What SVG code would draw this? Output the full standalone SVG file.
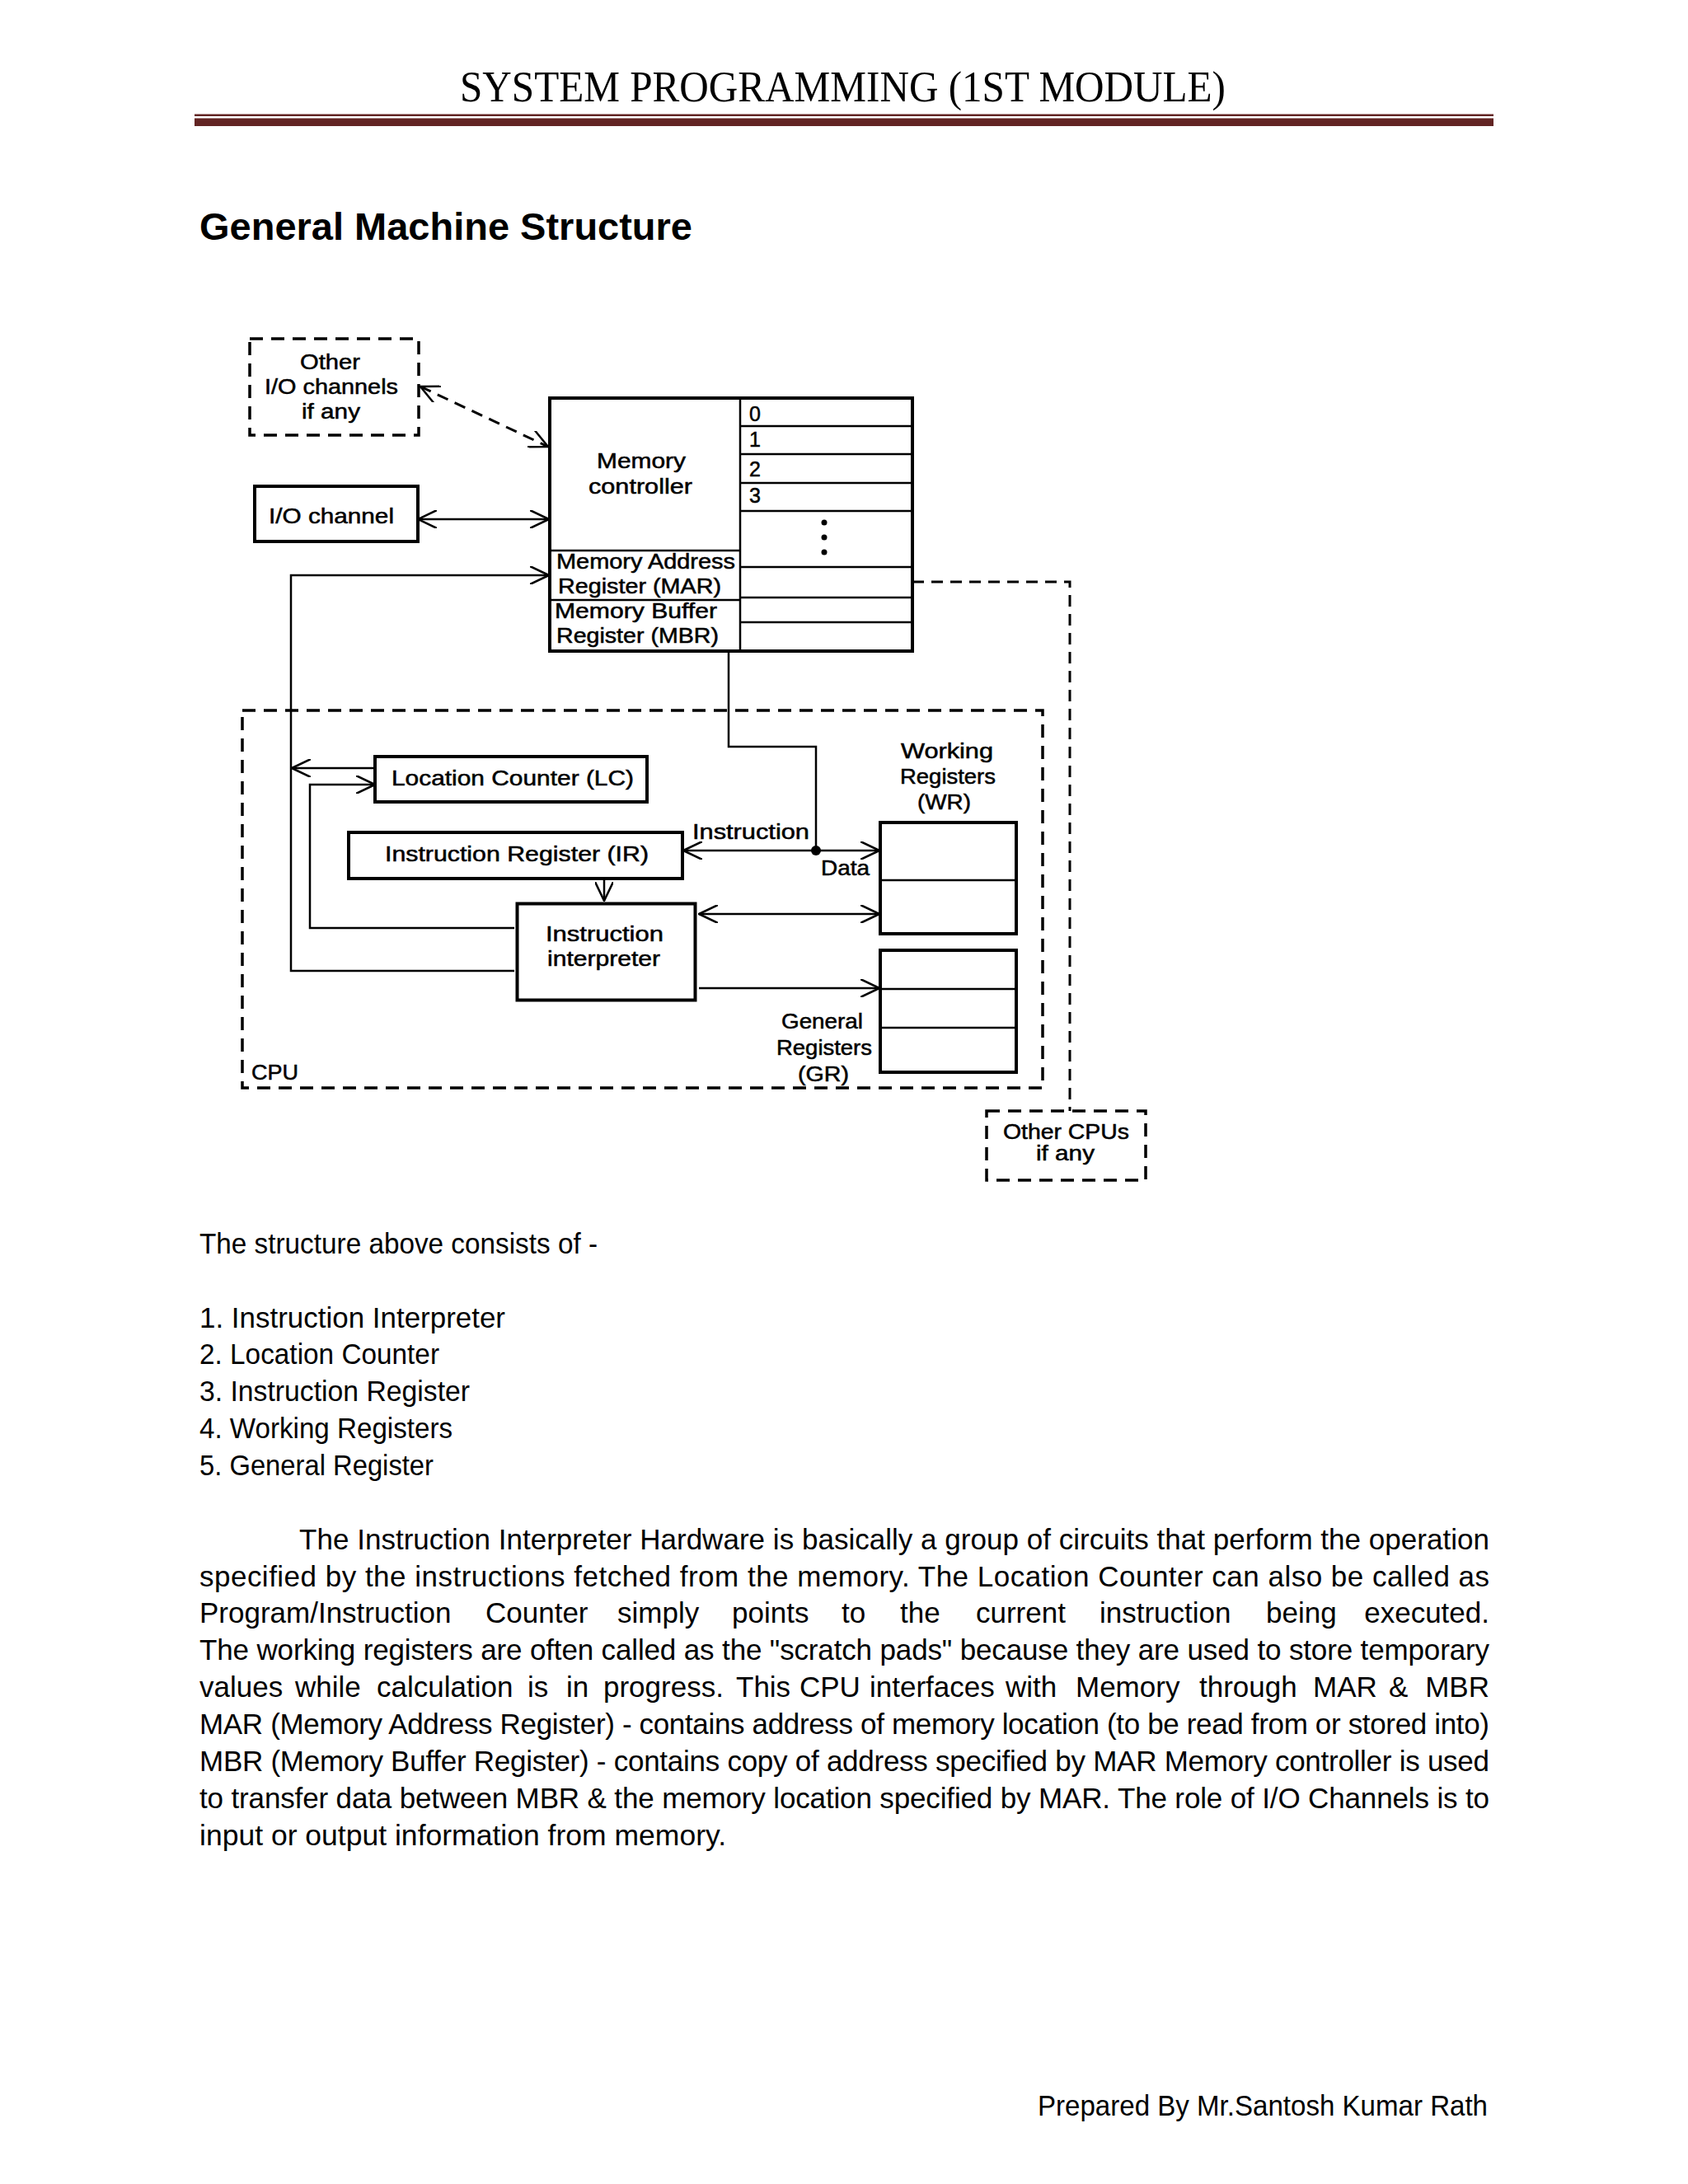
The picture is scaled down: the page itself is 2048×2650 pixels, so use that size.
<svg xmlns="http://www.w3.org/2000/svg" width="2048" height="2650" viewBox="0 0 2048 2650">
<style>
.hdr{font-family:"Liberation Serif","DejaVu Serif",serif;font-size:53px;fill:#000}
.ttl{font-family:"Liberation Sans",Arial,sans-serif;font-size:47px;font-weight:bold;fill:#000}
.body{font-family:"Liberation Sans",Arial,sans-serif;font-size:35px;fill:#000}
.end{text-anchor:end}
.lbl{font-family:"Liberation Sans",Arial,sans-serif;font-size:25px;fill:#000;stroke:#000;stroke-width:0.5}
.box{fill:none;stroke:#000;stroke-width:4}
.dbox{fill:none;stroke:#000;stroke-width:3.5;stroke-dasharray:16 10}
.ln{fill:none;stroke:#000;stroke-width:2.5}
.cn{fill:none;stroke:#000;stroke-width:2.5}
.dcn{fill:none;stroke:#000;stroke-width:3;stroke-dasharray:14 9}
</style>
<defs>
<marker id="arr" viewBox="0 0 24 22" refX="23" refY="11" markerWidth="24" markerHeight="22" markerUnits="userSpaceOnUse" orient="auto-start-reverse">
<path d="M0,0 L23,11 L0,22" fill="none" stroke="#000" stroke-width="2.5"/>
</marker>
</defs>
<rect width="2048" height="2650" fill="#fff"/>

<g id="header">
<text class="hdr" x="558" y="123" textLength="929" lengthAdjust="spacingAndGlyphs">SYSTEM PROGRAMMING (1ST MODULE)</text>
<rect x="236" y="138.5" width="1576" height="2.5" fill="#622423"/>
<rect x="236" y="143.5" width="1576" height="9.5" fill="#622423"/>
</g>

<g id="title">
<text class="ttl" x="242" y="291" textLength="598" lengthAdjust="spacingAndGlyphs">General Machine Structure</text>
</g>

<g id="connectors">
<line class="dcn" x1="510" y1="469" x2="665" y2="542" marker-start="url(#arr)" marker-end="url(#arr)"/>
<line class="cn" x1="507" y1="630" x2="666" y2="630" marker-start="url(#arr)" marker-end="url(#arr)"/>
<path class="cn" d="M624,1178 L353,1178 L353,698 L666,698" marker-end="url(#arr)"/>
<line class="cn" x1="455" y1="932" x2="354" y2="932" marker-end="url(#arr)"/>
<path class="cn" d="M624,1126 L376,1126 L376,952 L455,952" marker-end="url(#arr)"/>
<line class="cn" x1="733" y1="1066" x2="733" y2="1093" marker-end="url(#arr)"/>
<path class="cn" d="M884,790 L884,906 L990,906 L990,1032"/>
<circle cx="990" cy="1032" r="6" fill="#000"/>
<line class="cn" x1="990" y1="1032" x2="829" y2="1032" marker-end="url(#arr)"/>
<line class="cn" x1="990" y1="1032" x2="1067" y2="1032" marker-end="url(#arr)"/>
<line class="cn" x1="848" y1="1109" x2="1067" y2="1109" marker-start="url(#arr)" marker-end="url(#arr)"/>
<line class="cn" x1="848" y1="1199" x2="1067" y2="1199" marker-end="url(#arr)"/>
<path class="dcn" d="M1107,706 L1298,706 L1298,1348"/>
<text class="lbl" x="840" y="1018" textLength="142" lengthAdjust="spacingAndGlyphs">Instruction</text>
<text class="lbl" x="996" y="1062" textLength="59" lengthAdjust="spacingAndGlyphs">Data</text>
</g>

<g id="other-io">
<rect class="dbox" x="303" y="411" width="205" height="117"/>
<text class="lbl" x="364" y="448" textLength="73" lengthAdjust="spacingAndGlyphs">Other</text>
<text class="lbl" x="321" y="478" textLength="162" lengthAdjust="spacingAndGlyphs">I/O channels</text>
<text class="lbl" x="366" y="508" textLength="71" lengthAdjust="spacingAndGlyphs">if any</text>
</g>

<g id="io-channel">
<rect class="box" x="309" y="590" width="198" height="67" stroke-width="3.5"/>
<text class="lbl" x="326" y="635" textLength="152" lengthAdjust="spacingAndGlyphs">I/O channel</text>
</g>

<g id="memory">
<rect class="box" x="667" y="483" width="440" height="307"/>
<line class="ln" x1="898" y1="483" x2="898" y2="790" stroke-width="3"/>
<line class="ln" x1="667" y1="668" x2="898" y2="668" stroke-width="4"/>
<line class="ln" x1="667" y1="728" x2="898" y2="728"/>
<line class="ln" x1="898" y1="517" x2="1107" y2="517"/>
<line class="ln" x1="898" y1="551" x2="1107" y2="551"/>
<line class="ln" x1="898" y1="586" x2="1107" y2="586"/>
<line class="ln" x1="898" y1="620" x2="1107" y2="620"/>
<line class="ln" x1="898" y1="688" x2="1107" y2="688"/>
<line class="ln" x1="898" y1="725" x2="1107" y2="725"/>
<line class="ln" x1="898" y1="755" x2="1107" y2="755"/>
<text class="lbl" x="909" y="511">0</text>
<text class="lbl" x="909" y="542">1</text>
<text class="lbl" x="909" y="578">2</text>
<text class="lbl" x="909" y="610">3</text>
<circle cx="1000" cy="634" r="3.5" fill="#000"/>
<circle cx="1000" cy="652" r="3.5" fill="#000"/>
<circle cx="1000" cy="670" r="3.5" fill="#000"/>
<text class="lbl" x="724" y="568" textLength="108" lengthAdjust="spacingAndGlyphs">Memory</text>
<text class="lbl" x="714" y="599" textLength="126" lengthAdjust="spacingAndGlyphs">controller</text>
<text class="lbl" x="675" y="690" textLength="217" lengthAdjust="spacingAndGlyphs">Memory Address</text>
<text class="lbl" x="677" y="720" textLength="198" lengthAdjust="spacingAndGlyphs">Register (MAR)</text>
<text class="lbl" x="673" y="750" textLength="197" lengthAdjust="spacingAndGlyphs">Memory Buffer</text>
<text class="lbl" x="675" y="780" textLength="197" lengthAdjust="spacingAndGlyphs">Register (MBR)</text>
</g>

<g id="cpu">
<rect class="dbox" x="294" y="862" width="971" height="458" stroke-width="3"/>
<text class="lbl" x="305" y="1310" textLength="57" lengthAdjust="spacingAndGlyphs">CPU</text>
</g>

<g id="location-counter">
<rect class="box" x="455" y="918" width="330" height="55"/>
<text class="lbl" x="475" y="953" textLength="294" lengthAdjust="spacingAndGlyphs">Location Counter (LC)</text>
</g>

<g id="instruction-register">
<rect class="box" x="423" y="1010" width="405" height="56"/>
<text class="lbl" x="467" y="1045" textLength="320" lengthAdjust="spacingAndGlyphs">Instruction Register (IR)</text>
</g>

<g id="instruction-interpreter">
<rect class="box" x="627.5" y="1096.5" width="216" height="117" stroke-width="7"/>
<text class="lbl" x="662" y="1142" textLength="143" lengthAdjust="spacingAndGlyphs">Instruction</text>
<text class="lbl" x="664" y="1172" textLength="137" lengthAdjust="spacingAndGlyphs">interpreter</text>
</g>

<g id="working-registers">
<rect class="box" x="1068" y="998" width="165" height="135"/>
<line class="ln" x1="1233" y1="998" x2="1233" y2="1133" stroke-width="6"/>
<line class="ln" x1="1068" y1="1068" x2="1233" y2="1068"/>
<text class="lbl" x="1093" y="920" textLength="112" lengthAdjust="spacingAndGlyphs">Working</text>
<text class="lbl" x="1092" y="951" textLength="116" lengthAdjust="spacingAndGlyphs">Registers</text>
<text class="lbl" x="1113" y="982" textLength="65" lengthAdjust="spacingAndGlyphs">(WR)</text>
</g>

<g id="general-registers">
<rect class="box" x="1068" y="1153" width="165" height="148"/>
<line class="ln" x1="1233" y1="1153" x2="1233" y2="1301" stroke-width="6"/>
<line class="ln" x1="1068" y1="1200" x2="1233" y2="1200"/>
<line class="ln" x1="1068" y1="1247" x2="1233" y2="1247"/>
<text class="lbl" x="948" y="1248" textLength="99" lengthAdjust="spacingAndGlyphs">General</text>
<text class="lbl" x="942" y="1280" textLength="116" lengthAdjust="spacingAndGlyphs">Registers</text>
<text class="lbl" x="968" y="1312" textLength="62" lengthAdjust="spacingAndGlyphs">(GR)</text>
</g>

<g id="other-cpus">
<rect class="dbox" x="1197" y="1348" width="193" height="84" stroke-dasharray="14 9"/>
<text class="lbl" x="1217" y="1382" textLength="153" lengthAdjust="spacingAndGlyphs">Other CPUs</text>
<text class="lbl" x="1257" y="1408" textLength="71" lengthAdjust="spacingAndGlyphs">if any</text>
</g>

<g id="body-text">
<text class="body" x="242" y="1521" textLength="483" lengthAdjust="spacingAndGlyphs">The structure above consists of -</text>
<text class="body" x="242" y="1611" textLength="371" lengthAdjust="spacingAndGlyphs">1. Instruction Interpreter</text>
<text class="body" x="242" y="1655" textLength="291" lengthAdjust="spacingAndGlyphs">2. Location Counter</text>
<text class="body" x="242" y="1700" textLength="328" lengthAdjust="spacingAndGlyphs">3. Instruction Register</text>
<text class="body" x="242" y="1745" textLength="307" lengthAdjust="spacingAndGlyphs">4. Working Registers</text>
<text class="body" x="242" y="1790" textLength="284" lengthAdjust="spacingAndGlyphs">5. General Register</text>

<text class="body" x="363" y="1880" textLength="1444" lengthAdjust="spacing">The Instruction Interpreter Hardware is basically a group of circuits that perform the operation</text>
<text class="body" x="242" y="1925" textLength="1565" lengthAdjust="spacing">specified by the instructions fetched from the memory. The Location Counter can also be called as</text>
<text class="body" y="1969"><tspan x="242">Program/Instruction</tspan><tspan x="589">Counter</tspan><tspan x="749">simply</tspan><tspan x="888">points</tspan><tspan x="1021">to</tspan><tspan x="1092">the</tspan><tspan x="1184">current</tspan><tspan x="1334">instruction</tspan><tspan x="1536">being</tspan></text>
<text class="body end" x="1807" y="1969">executed.</text>
<text class="body" x="242" y="2014" textLength="1565" lengthAdjust="spacing">The working registers are often called as the "scratch pads" because they are used to store temporary</text>
<text class="body" y="2059"><tspan x="242">values</tspan><tspan x="358">while</tspan><tspan x="457">calculation</tspan><tspan x="640">is</tspan><tspan x="687">in</tspan><tspan x="732">progress.</tspan><tspan x="893">This</tspan><tspan x="970">CPU</tspan><tspan x="1055">interfaces</tspan><tspan x="1220">with</tspan><tspan x="1305">Memory</tspan><tspan x="1455">through</tspan><tspan x="1593">MAR</tspan><tspan x="1685">&amp;</tspan></text>
<text class="body end" x="1807" y="2059">MBR</text>
<text class="body" x="242" y="2104" textLength="1565" lengthAdjust="spacing">MAR (Memory Address Register) - contains address of memory location (to be read from or stored into)</text>
<text class="body" x="242" y="2149" textLength="1565" lengthAdjust="spacing">MBR (Memory Buffer Register) - contains copy of address specified by MAR Memory controller is used</text>
<text class="body" x="242" y="2194" textLength="1565" lengthAdjust="spacing">to transfer data between MBR &amp; the memory location specified by MAR. The role of I/O Channels is to</text>
<text class="body" x="242" y="2239" textLength="639" lengthAdjust="spacingAndGlyphs">input or output information from memory.</text>
</g>

<g id="footer">
<text class="body" x="1259" y="2567" textLength="546" lengthAdjust="spacingAndGlyphs">Prepared By Mr.Santosh Kumar Rath</text>
</g>
</svg>
